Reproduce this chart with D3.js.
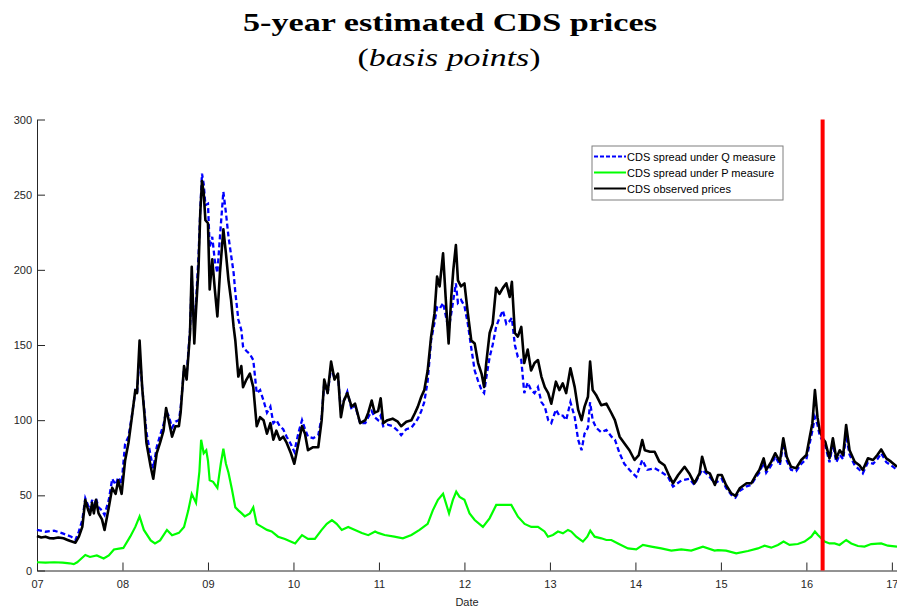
<!DOCTYPE html>
<html><head><meta charset="utf-8">
<script src="https://cdn.jsdelivr.net/npm/d3@7"></script>
<style>body{margin:0;background:#fff}svg{display:block}</style>
</head><body>
<svg id="c" width="897" height="610"></svg>
<script>
// ---- data ----
const xTickValues = [7,8,9,10,11,12,13,14,15,16,17];
const xTickLabels = ["07","08","09","10","11","12","13","14","15","16","17"];
const yTickValues = [0,50,100,150,200,250,300];
const seriesNames = ["CDS spread under Q measure","CDS spread under P measure","CDS observed prices"];
const eventDate = 16.19;

const observed = [[7.00,23],[7.05,22],[7.10,22.5],[7.15,21.5],[7.20,21.4],[7.25,22],[7.31,21.4],[7.35,20.5],[7.39,19.6],[7.45,18.5],[7.49,22.5],[7.53,29],[7.565,47],[7.60,40],[7.62,37],[7.645,45],[7.665,38],[7.69,47],[7.72,38],[7.76,34],[7.79,27],[7.84,42],[7.88,55],[7.92,51],[7.95,60],[7.99,51],[8.03,73],[8.07,85],[8.11,102],[8.15,120],[8.17,118],[8.20,153],[8.23,122],[8.255,105],[8.28,85],[8.33,69],[8.36,61],[8.40,78],[8.44,85],[8.48,93],[8.51,108],[8.54,100],[8.58,89],[8.62,96],[8.66,96],[8.68,105],[8.72,136],[8.75,127],[8.79,158],[8.81,202],[8.84,151],[8.86,173],[8.89,202],[8.91,238],[8.93,259],[8.95,251],[8.97,233],[9.00,231],[9.02,187],[9.05,207],[9.08,187],[9.11,169],[9.14,198],[9.18,227],[9.21,211],[9.24,193],[9.27,180],[9.30,162],[9.32,153],[9.355,129],[9.39,136],[9.41,122],[9.45,127],[9.49,131],[9.53,122],[9.57,96],[9.61,102],[9.65,100],[9.69,91],[9.73,98],[9.765,87],[9.80,93],[9.84,87],[9.88,89],[9.92,85],[9.97,78],[10.01,71],[10.06,85],[10.10,96],[10.135,91],[10.17,80],[10.23,82],[10.29,82],[10.33,100],[10.36,127],[10.40,118],[10.44,139],[10.48,127],[10.52,131],[10.555,102],[10.59,113],[10.63,118],[10.68,109],[10.72,111],[10.78,98],[10.84,100],[10.875,105],[10.915,113],[10.95,105],[10.99,106],[11.02,114.6],[11.05,98],[11.10,100],[11.16,101],[11.22,99],[11.26,96],[11.32,99],[11.38,100],[11.42,104.6],[11.455,109],[11.495,115.6],[11.53,120],[11.57,133],[11.61,155.6],[11.65,171],[11.68,195.5],[11.71,189],[11.75,211],[11.78,182],[11.815,151],[11.846,182],[11.87,200],[11.90,216.5],[11.924,193],[11.96,189],[12.00,191],[12.04,171],[12.08,153],[12.12,151],[12.16,138],[12.20,131],[12.23,122],[12.255,138],[12.295,158],[12.33,164],[12.37,188],[12.41,184],[12.45,188],[12.49,191],[12.53,182],[12.555,192],[12.59,158],[12.625,155.6],[12.665,162],[12.70,138],[12.74,147],[12.78,133],[12.82,138],[12.86,140],[12.90,129],[12.94,122],[12.98,118],[13.016,111],[13.07,125.6],[13.11,120],[13.15,124.5],[13.19,118],[13.24,134.5],[13.29,122],[13.33,107],[13.37,100],[13.405,109],[13.445,115.6],[13.47,139],[13.50,120],[13.54,116.8],[13.60,110],[13.66,111],[13.72,104.6],[13.76,100],[13.815,89],[13.87,84.6],[13.93,80],[13.99,73.5],[14.04,76.8],[14.08,86.8],[14.11,80],[14.17,79],[14.225,79],[14.28,72.4],[14.34,70],[14.40,62.4],[14.44,58],[14.50,63.5],[14.575,69],[14.63,64.6],[14.69,58],[14.75,64.6],[14.78,75.7],[14.83,65.7],[14.87,64.6],[14.93,56.9],[14.965,63.5],[15.01,63.5],[15.06,56.9],[15.12,51.4],[15.17,49.6],[15.22,54.7],[15.30,58],[15.355,58],[15.41,63.5],[15.45,66.9],[15.50,74.6],[15.53,66.9],[15.59,72.4],[15.635,78],[15.69,72.4],[15.73,88],[15.77,75.7],[15.82,69],[15.88,68],[15.94,73.5],[16.00,76.8],[16.04,89],[16.07,98],[16.10,120],[16.13,102],[16.155,93.5],[16.19,88],[16.22,85.7],[16.27,74.6],[16.31,88],[16.35,74.6],[16.39,80],[16.43,76.8],[16.465,96.8],[16.505,80],[16.565,72.4],[16.62,70],[16.66,66.9],[16.72,74.6],[16.78,73.5],[16.83,76.8],[16.875,80.5],[16.935,74.6],[16.99,72.4],[17.06,69]];

const spreadQ = [[7.00,27],[7.10,25.8],[7.20,26.5],[7.30,24.7],[7.40,22.5],[7.45,20.3],[7.49,26],[7.53,33.6],[7.565,48],[7.60,43],[7.62,40],[7.645,47],[7.665,41],[7.69,48],[7.72,42],[7.76,40],[7.79,37],[7.84,47],[7.88,61],[7.92,57],[7.95,62],[7.99,58],[8.03,84],[8.07,89],[8.11,103],[8.15,119],[8.17,117],[8.20,145],[8.23,122],[8.255,107],[8.28,92],[8.33,76],[8.36,68],[8.40,82],[8.44,90],[8.48,97],[8.51,106],[8.54,103],[8.58,95],[8.62,99],[8.66,100],[8.68,108],[8.72,134],[8.75,130],[8.79,160],[8.81,195],[8.84,160],[8.86,178],[8.89,210],[8.91,240],[8.93,264],[8.95,257],[8.97,243],[9.00,244],[9.02,215],[9.05,222],[9.08,206],[9.11,198],[9.14,222],[9.18,252],[9.21,238],[9.24,222],[9.27,210],[9.30,198],[9.32,185],[9.355,167],[9.39,160],[9.41,149],[9.45,146],[9.49,144],[9.53,140],[9.57,118],[9.61,120],[9.65,113],[9.69,105],[9.73,109],[9.765,98],[9.80,100],[9.84,96],[9.88,94],[9.92,89],[9.97,84],[10.01,79],[10.06,92],[10.10,100],[10.135,94],[10.17,89],[10.23,88],[10.29,90],[10.33,102],[10.36,125],[10.40,118],[10.44,135],[10.48,128],[10.52,130],[10.555,106],[10.59,113],[10.63,119],[10.68,107],[10.72,110],[10.78,98],[10.84,98],[10.875,102],[10.915,106],[10.95,102],[10.99,100],[11.02,103],[11.05,96],[11.10,97],[11.16,96],[11.22,93],[11.26,90],[11.32,94],[11.38,95],[11.42,98],[11.455,101],[11.495,106],[11.53,112],[11.57,126],[11.61,153],[11.65,165],[11.68,175],[11.71,174],[11.75,178],[11.78,170],[11.815,160],[11.846,171],[11.87,180],[11.90,191],[11.924,178],[11.96,180],[12.00,176],[12.04,164],[12.08,148],[12.12,133],[12.16,126],[12.20,120],[12.23,118],[12.255,128],[12.295,142],[12.33,150],[12.37,162],[12.41,168],[12.45,173],[12.49,164],[12.53,166],[12.555,168],[12.59,150],[12.625,142],[12.665,140],[12.70,118],[12.74,125],[12.78,120],[12.82,118],[12.86,122],[12.90,112],[12.94,109],[12.98,100],[13.016,98],[13.07,107],[13.11,103],[13.15,103],[13.19,100],[13.24,112],[13.29,102],[13.33,87],[13.37,80],[13.405,91],[13.445,95],[13.47,112],[13.50,100],[13.54,95],[13.60,92],[13.66,93.5],[13.72,89],[13.76,87],[13.815,78],[13.87,71],[13.93,67],[13.97,64.6],[14.01,62.4],[14.08,73.5],[14.14,67],[14.225,68],[14.30,65.7],[14.38,62.4],[14.44,55.8],[14.54,60],[14.63,61],[14.69,57],[14.78,67],[14.85,63.5],[14.93,58],[15.01,61],[15.06,55],[15.12,50.5],[15.17,48.5],[15.22,53],[15.30,56],[15.355,57],[15.41,62],[15.45,65],[15.50,72],[15.53,65],[15.59,70],[15.635,76],[15.69,70],[15.73,85],[15.77,73],[15.82,67],[15.88,66],[15.94,71],[16.00,74],[16.04,85],[16.07,93],[16.10,102],[16.13,97],[16.155,90],[16.19,86],[16.22,83],[16.27,72],[16.31,84],[16.35,72],[16.39,77],[16.43,74],[16.465,90],[16.505,77],[16.565,70],[16.62,67],[16.66,64.6],[16.72,72],[16.78,71],[16.83,74],[16.875,78],[16.935,72],[16.99,70],[17.06,67]];

const spreadP = [[7.00,5.5],[7.10,5.3],[7.20,5.5],[7.30,5.2],[7.38,4.8],[7.43,4.2],[7.47,5.5],[7.50,7],[7.565,10.3],[7.62,9],[7.70,10],[7.78,8],[7.84,10],[7.90,14],[8.01,15],[8.09,22.5],[8.15,29],[8.20,36],[8.25,27],[8.33,20],[8.38,18],[8.44,20],[8.52,27],[8.58,23.5],[8.66,25],[8.72,29],[8.77,40],[8.81,51],[8.86,45],[8.90,66],[8.92,87],[8.95,78],[8.98,80],[9.00,73],[9.02,60],[9.06,59],[9.11,55],[9.15,71],[9.18,81],[9.21,71],[9.24,65],[9.28,54],[9.32,42],[9.355,40],[9.395,38],[9.43,36],[9.49,38],[9.53,42],[9.57,31],[9.63,29],[9.69,27],[9.745,26],[9.82,22.5],[9.90,21],[9.98,19],[10.02,18],[10.10,23.5],[10.17,21],[10.25,21],[10.33,27],[10.39,31],[10.45,33.5],[10.505,31],[10.565,27],[10.64,29],[10.72,27],[10.80,25],[10.875,23.5],[10.955,26],[10.99,25],[11.066,23.6],[11.18,22.5],[11.28,21.4],[11.38,23.6],[11.475,27],[11.57,31],[11.63,40],[11.69,47],[11.75,51],[11.82,38],[11.865,47],[11.904,52.4],[11.943,49],[12.00,47],[12.06,38],[12.12,33.6],[12.216,29],[12.294,34.7],[12.372,43.6],[12.45,43.6],[12.548,43.6],[12.626,35.8],[12.704,31],[12.782,29],[12.86,29],[12.937,26],[12.977,22.5],[13.035,23.6],[13.094,25.9],[13.152,24.7],[13.211,27],[13.25,25.9],[13.308,22.5],[13.386,19.2],[13.437,22.5],[13.472,26.5],[13.523,22.5],[13.601,21.4],[13.66,20.3],[13.718,20.3],[13.796,18],[13.913,14.7],[14.01,14],[14.088,17],[14.186,15.9],[14.302,14.7],[14.42,13.2],[14.536,14],[14.653,13.2],[14.79,15.9],[14.926,13.2],[14.965,13.6],[15.06,13.2],[15.18,11.4],[15.316,13],[15.433,14.7],[15.511,16.5],[15.589,15.2],[15.667,17],[15.733,19.2],[15.803,17],[15.9,17.6],[15.979,19.2],[16.057,22.5],[16.10,25.9],[16.135,23.6],[16.213,19.2],[16.271,18],[16.33,18],[16.388,17],[16.466,20.3],[16.525,18],[16.603,16.3],[16.68,15.9],[16.758,17.6],[16.875,18],[16.953,16.5],[17.06,15.9]];

// ---- drawing ----
const svg = d3.select("#c");
const axisColor = "#262626";
const x = d3.scaleLinear().domain([7, 17.06]).range([37, 897]);
const y = d3.scaleLinear().domain([0, 300]).range([570.5, 119.5]);

// title
svg.append("text").attr("x", 450).attr("y", 31).attr("text-anchor","middle")
  .attr("font-family","'Liberation Serif', 'DejaVu Serif', serif").attr("font-weight","bold")
  .attr("font-size", 25).attr("fill","#000")
  .attr("textLength", 414).attr("lengthAdjust","spacingAndGlyphs")
  .text("5-year estimated CDS prices");
const sub = svg.append("text").attr("x", 449).attr("y", 66).attr("text-anchor","middle")
  .attr("font-family","'Liberation Serif', 'DejaVu Serif', serif").attr("font-size", 25).attr("fill","#000")
  .attr("textLength", 183).attr("lengthAdjust","spacingAndGlyphs");
sub.append("tspan").text("(");
sub.append("tspan").attr("font-style","italic").text("basis points");
sub.append("tspan").text(")");

// axes
const xAxis = d3.axisBottom(x).tickValues(xTickValues)
  .tickFormat((d,i) => xTickLabels[i]).tickSizeInner(-8).tickSizeOuter(0).tickPadding(10);
const gx = svg.append("g").attr("transform","translate(0,570.5)").call(xAxis);
const yAxis = d3.axisLeft(y).tickValues(yTickValues).tickSizeInner(-8).tickSizeOuter(0).tickPadding(5);
const gy = svg.append("g").attr("transform","translate(37,0)").call(yAxis);
[gx, gy].forEach(g => {
  g.select(".domain").attr("stroke", axisColor).attr("stroke-width", 1);
  g.selectAll(".tick line").attr("stroke", axisColor);
  g.selectAll(".tick text").attr("fill", axisColor)
    .attr("font-family","'Liberation Sans', Arial, sans-serif").attr("font-size", 11);
});
svg.append("text").attr("x", 467).attr("y", 606).attr("text-anchor","middle")
  .attr("font-family","'Liberation Sans', Arial, sans-serif").attr("font-size", 11)
  .attr("fill", axisColor).text("Date");

// lines
const line = d3.line().x(d => x(d[0])).y(d => y(d[1]));
svg.append("path").datum(spreadQ).attr("d", line).attr("fill","none")
  .attr("stroke","#0000ff").attr("stroke-width", 2.3).attr("stroke-dasharray","5,3");
svg.append("path").datum(spreadP).attr("d", line).attr("fill","none")
  .attr("stroke","#00ff00").attr("stroke-width", 2.2);
svg.append("path").datum(observed).attr("d", line).attr("fill","none")
  .attr("stroke","#000").attr("stroke-width", 2.6).attr("stroke-linejoin","round");

// event line
svg.append("line").attr("x1", x(eventDate)).attr("x2", x(eventDate))
  .attr("y1", y(300)).attr("y2", y(0)).attr("stroke","#ff0000").attr("stroke-width", 4);

// legend
const lg = svg.append("g");
lg.append("rect").attr("x", 592).attr("y", 146).attr("width", 191).attr("height", 54)
  .attr("fill","#fff").attr("stroke","#7f7f7f").attr("stroke-width", 1);
const styles = [
  {c:"#0000ff", dash:"4,2"},
  {c:"#00ff00", dash:null},
  {c:"#000", dash:null}
];
seriesNames.forEach((n,i) => {
  const yy = 156.5 + i*16;
  lg.append("line").attr("x1", 594).attr("x2", 626).attr("y1", yy).attr("y2", yy)
    .attr("stroke", styles[i].c).attr("stroke-width", 2).attr("stroke-dasharray", styles[i].dash);
  lg.append("text").attr("x", 627).attr("y", yy + 4).attr("font-family","'Liberation Sans', Arial, sans-serif")
    .attr("font-size", 11).attr("fill","#000").text(n);
});
</script>
</body></html>
